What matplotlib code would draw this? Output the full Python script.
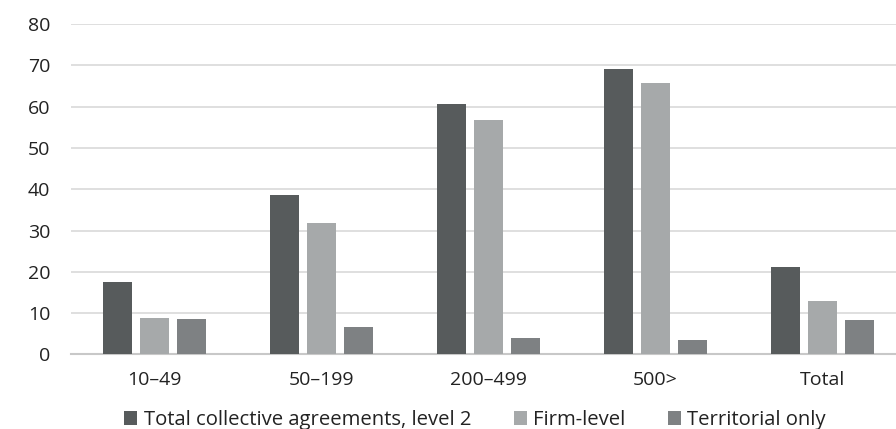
import numpy as np
import matplotlib.pyplot as plt

# data
categories = ['10\u201349', '50\u2013199', '200\u2013499', '500>', 'Total']
total_level2 = [17.5, 38.6, 60.6, 69.2, 21.2]
firm_level = [8.8, 31.9, 56.7, 65.6, 12.9]
territorial = [8.7, 6.6, 3.9, 3.5, 8.3]
series_names = ['Total collective agreements, level 2', 'Firm-level', 'Territorial only']
yticks = [0, 10, 20, 30, 40, 50, 60, 70, 80]

colors = ['#575b5c', '#a6a9aa', '#7e8183']

plt.rcParams['font.family'] = ['Open Sans', 'DejaVu Sans']

fig = plt.figure(figsize=(8.96, 4.29), dpi=100)
ax = fig.add_axes([0.0792, 0.1737, 0.9208, 0.7704])

x = np.arange(len(categories))
step = 0.2216
width = 0.174
series = [total_level2, firm_level, territorial]
bars = []
for i, (vals, c, name) in enumerate(zip(series, colors, series_names)):
    b = ax.bar(x + (i - 1) * step, vals, width=width, color=c, label=name, zorder=3)
    bars.append(b)

ax.set_ylim(0, 80)
ax.set_xlim(-0.5, -0.5 + 825 / 167)
ax.set_yticks(yticks)
ax.set_xticks(x)
ax.set_xticklabels(categories)
ax.yaxis.grid(True, color='#d9d9d9', linewidth=1.2, zorder=0)
ax.set_axisbelow(True)
for s in ['top', 'right', 'left']:
    ax.spines[s].set_visible(False)
ax.spines['bottom'].set_color('#c8c8c8')
ax.spines['bottom'].set_linewidth(1.5)
ax.tick_params(axis='y', length=0, pad=15, labelsize=14, colors='#222222')
ax.tick_params(axis='x', length=0, pad=12, labelsize=14, colors='#222222')

fig.legend(handles=bars, labels=series_names, loc='center',
           bbox_to_anchor=(0.530, 0.021), ncol=3, frameon=False,
           fontsize=14.6, handlelength=0.65, handleheight=0.65,
           handletextpad=0.3, columnspacing=2.1, labelcolor='#222222')

fig.savefig('out.png', dpi=100)
